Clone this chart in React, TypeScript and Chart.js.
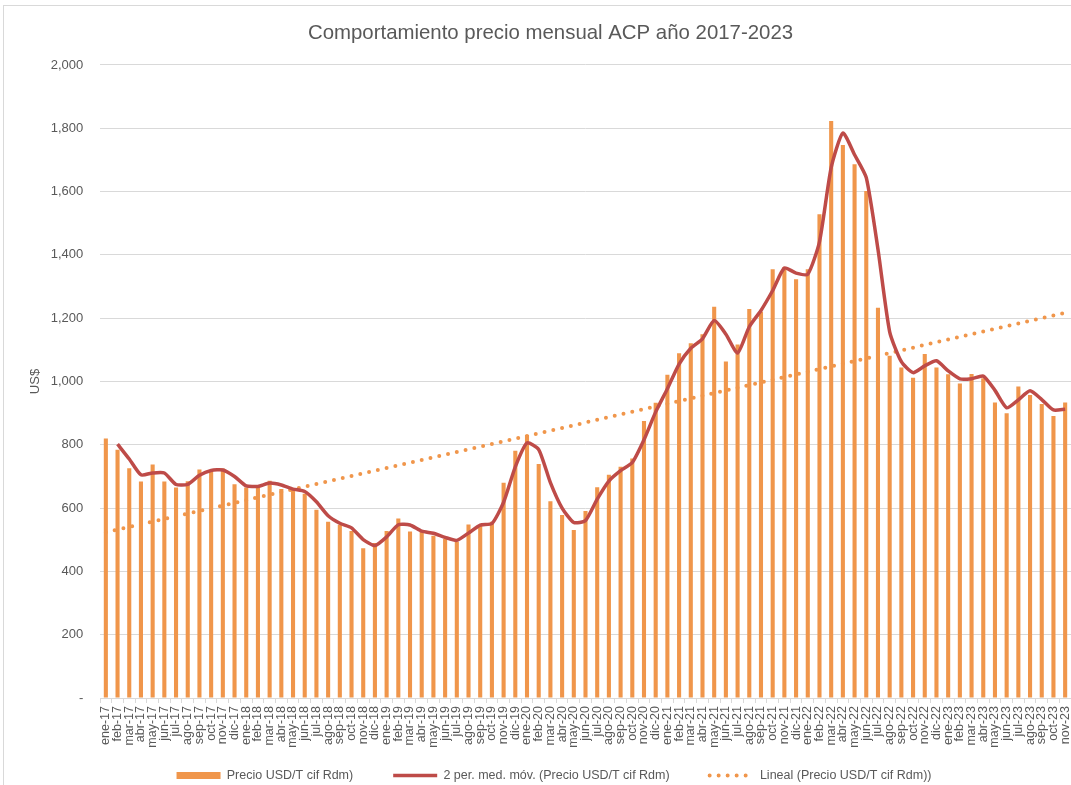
import React, { useEffect, useRef } from 'react';
import { Chart, registerables } from 'chart.js';

Chart.register(...registerables);

// ---- Data ----
const monthNames = ['ene', 'feb', 'mar', 'abr', 'may', 'jun', 'jul', 'ago', 'sep', 'oct', 'nov', 'dic'];
const yearSuffixes = ['17', '18', '19', '20', '21', '22', '23'];

const prices2017 = [820, 784, 726, 684, 738, 684, 665, 685, 722, 716, 725, 675];
const prices2018 = [665, 672, 686, 660, 660, 645, 595, 557, 547, 528, 473, 490];
const prices2019 = [528, 567, 526, 528, 513, 502, 494, 548, 545, 557, 680, 781];
const prices2020 = [831, 739, 622, 578, 531, 591, 666, 705, 731, 757, 875, 933];
const prices2021 = [1021, 1089, 1121, 1149, 1236, 1063, 1117, 1229, 1220, 1355, 1362, 1323];
const prices2022 = [1355, 1528, 1823, 1747, 1686, 1602, 1233, 1081, 1044, 1012, 1087, 1044];
const prices2023 = [1023, 994, 1024, 1010, 934, 900, 984, 957, 929, 891, 934];

const yearlyPrices = [prices2017, prices2018, prices2019, prices2020, prices2021, prices2022, prices2023];

const yTickMax = 2000;
const yTickStep = 200;

const chartTitle = 'Comportamiento precio mensual ACP año 2017-2023';
const yAxisTitle = 'US$';
const seriesBarLabel = 'Precio USD/T cif Rdm)';
const seriesMaLabel = '2 per. med. móv. (Precio USD/T cif Rdm)';
const seriesTrendLabel = 'Lineal (Precio USD/T cif Rdm))';

// ---- Styles ----
const TEXT = '#595959';
const GRID = '#D9D9D9';
const BAR = '#F0964B';
const MA = '#BE4B48';
const FONT = "'Liberation Sans', Arial, sans-serif";

const CANVAS_W = 1090;
const CANVAS_H = 811;
const LEGEND_PAD = 40;
const LEGEND_FONT = 12.5;

export default function App() {
  const ref = useRef<HTMLCanvasElement>(null);

  useEffect(() => {
    document.body.style.margin = '0';
    const canvas = ref.current;
    if (!canvas) return;

    const labels: string[] = [];
    const prices: number[] = [];
    yearlyPrices.forEach((arr, yi) => {
      arr.forEach((v, mi) => {
        labels.push(`${monthNames[mi]}-${yearSuffixes[yi]}`);
        prices.push(v);
      });
    });

    const movingAvg = prices.map((v, i) => (i === 0 ? null : (v + prices[i - 1]) / 2));

    const n = prices.length;
    let sx = 0, sy = 0, sxx = 0, sxy = 0;
    prices.forEach((v, i) => {
      const x = i + 1;
      sx += x; sy += v; sxx += x * x; sxy += x * v;
    });
    const slope = (n * sxy - sx * sy) / (n * sxx - sx * sx);
    const intercept = (sy - slope * sx) / n;
    const trend = prices.map((_, i) => intercept + slope * (i + 1));

    const legendHeight = LEGEND_FONT + LEGEND_PAD + 10;
    const xAxisHeight = CANVAS_H - legendHeight - 698;
    const legendTextCenter = CANVAS_H - legendHeight + LEGEND_PAD + LEGEND_FONT / 2;
    const legendUp = legendTextCenter - 775.5;

    const framePlugin = {
      id: 'frame',
      beforeDraw(chart: any) {
        const c = chart.ctx;
        c.save();
        c.fillStyle = '#ffffff';
        c.fillRect(0, 0, chart.width, chart.height);
        c.strokeStyle = GRID;
        c.lineWidth = 1;
        c.strokeRect(3.5, 5.5, chart.width + 20, chart.height + 20);
        c.restore();
      },
    };

    const boxShift = {
      id: 'boxShift',
      afterLayout(chart: any) {
        const lg = chart.legend;
        if (lg) {
          lg.left += 18.5;
          lg.right += 18.5;
          lg.top -= legendUp;
          lg.bottom -= legendUp;
        }
        const tb = chart.titleBlock;
        if (tb) {
          tb.left += 15;
          tb.right += 15;
        }
      },
    };

    const chart = new Chart(canvas, {
      type: 'bar',
      data: {
        labels,
        datasets: [
          {
            type: 'bar',
            label: seriesBarLabel,
            data: prices,
            backgroundColor: BAR,
            borderWidth: 0,
            barPercentage: 0.35,
            categoryPercentage: 1,
            order: 3,
          },
          {
            type: 'line',
            label: seriesMaLabel,
            data: movingAvg,
            borderColor: MA,
            backgroundColor: MA,
            borderWidth: 3.5,
            pointRadius: 0,
            tension: 0.2,
            fill: false,
            order: 1,
          },
          {
            type: 'line',
            label: seriesTrendLabel,
            data: trend,
            borderColor: BAR,
            backgroundColor: BAR,
            borderWidth: 4,
            borderDash: [0, 9],
            borderCapStyle: 'round',
            pointRadius: 0,
            tension: 0,
            fill: false,
            order: 2,
          },
        ] as any,
      },
      options: {
        animation: false,
        responsive: false,
        maintainAspectRatio: false,
        layout: { padding: { left: 0, right: CANVAS_W - 1071, top: 0, bottom: 0 } },
        plugins: {
          title: {
            display: true,
            text: chartTitle,
            color: TEXT,
            font: { family: FONT, size: 20.4, weight: 'normal' },
            padding: { top: 20.8, bottom: 19.7 },
          },
          legend: {
            position: 'bottom',
            labels: {
              usePointStyle: true,
              pointStyleWidth: 44,
              boxHeight: 7,
              padding: LEGEND_PAD,
              color: TEXT,
              font: { family: FONT, size: LEGEND_FONT },
              generateLabels: (ch: any) =>
                ch.data.datasets.map((ds: any, i: number) => ({
                  text: ds.label,
                  datasetIndex: i,
                  fillStyle: i === 0 ? BAR : 'rgba(0,0,0,0)',
                  strokeStyle: i === 0 ? BAR : ds.borderColor,
                  lineWidth: i === 0 ? 0 : i === 1 ? 3.5 : 4,
                  lineDash: i === 2 ? [0, 9] : [],
                  lineCap: i === 2 ? 'round' : 'butt',
                  pointStyle: i === 0 ? 'rect' : 'line',
                  fontColor: TEXT,
                  hidden: false,
                })),
            },
          },
          tooltip: { enabled: false },
        },
        scales: {
          x: {
            grid: { drawOnChartArea: false, color: GRID, tickLength: 5, offset: true },
            border: { display: true, color: GRID },
            ticks: {
              autoSkip: false,
              maxRotation: 90,
              minRotation: 90,
              color: TEXT,
              padding: 3,
              font: { family: FONT, size: 12.5 },
            },
            afterFit: (s: any) => {
              s.height = xAxisHeight;
            },
          },
          y: {
            min: 0,
            max: yTickMax,
            ticks: {
              stepSize: yTickStep,
              color: TEXT,
              padding: 16.7,
              font: { family: FONT, size: 13 },
              callback: (v: any) => (Number(v) === 0 ? '-' : Number(v).toLocaleString('en-US')),
            },
            grid: { color: GRID, drawTicks: false },
            border: { display: false },
            title: {
              display: true,
              text: yAxisTitle,
              color: TEXT,
              font: { family: FONT, size: 13 },
              padding: { top: 28, bottom: 0 },
            },
            afterFit: (s: any) => {
              s.width = 100;
            },
          },
        },
      } as any,
      plugins: [framePlugin, boxShift],
    });

    return () => chart.destroy();
  }, []);

  return (
    <div style={{ width: 1071, height: 785, overflow: 'hidden', position: 'relative', background: '#fff' }}>
      <canvas
        ref={ref}
        width={CANVAS_W}
        height={CANVAS_H}
        style={{ display: 'block', width: CANVAS_W, height: CANVAS_H }}
      />
    </div>
  );
}
